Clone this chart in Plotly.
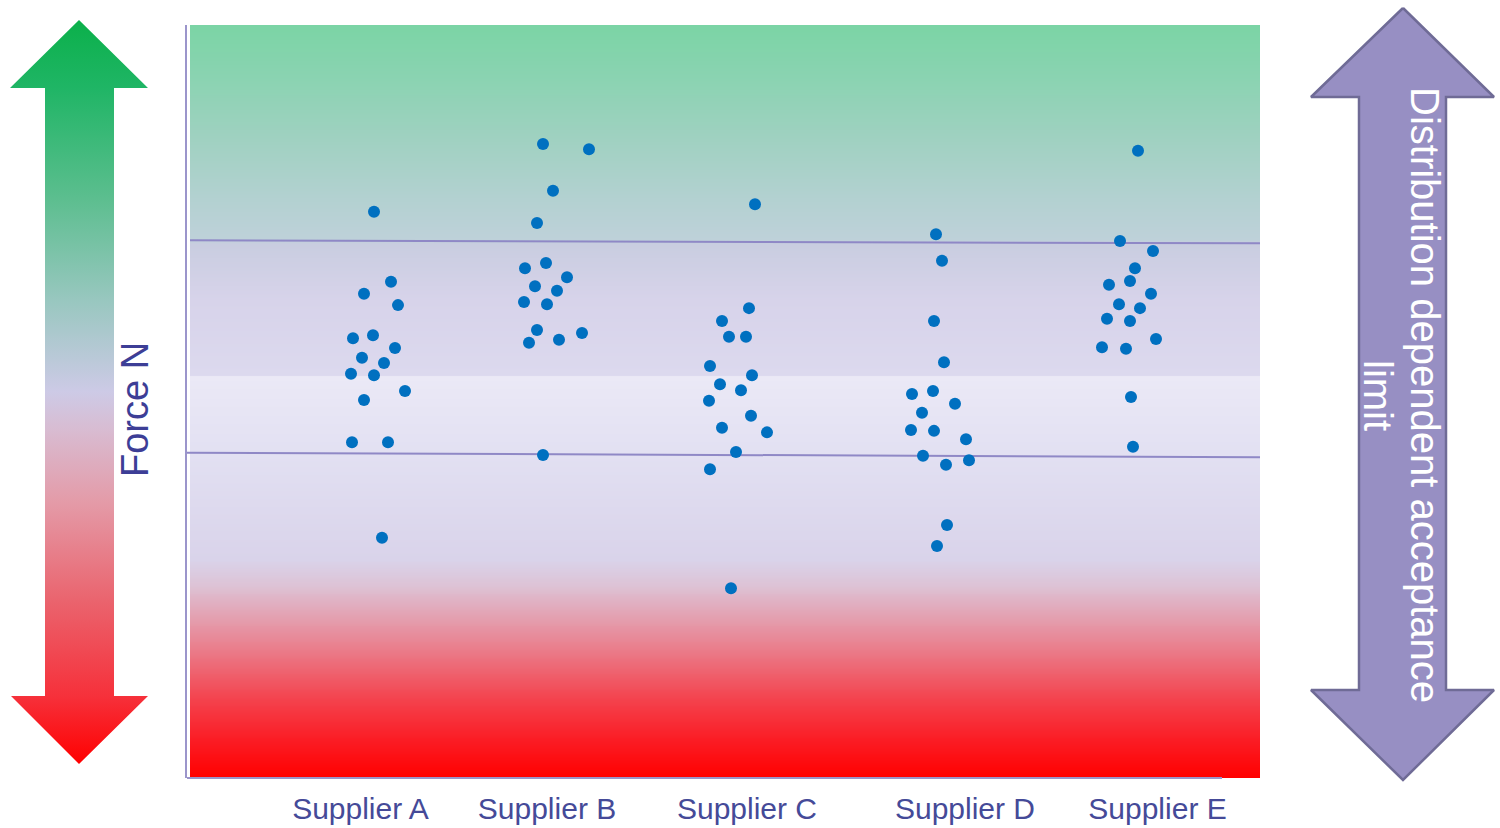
import numpy as np
import plotly.graph_objects as go

# ---------------- data ----------------
suppliers = ["Supplier A", "Supplier B", "Supplier C", "Supplier D", "Supplier E"]
label_pos = [0.8675, 1.80, 2.80, 3.89, 4.8525]

a_x = [0.935, 1.02, 0.885, 1.055, 0.83, 0.93, 1.04, 0.875, 0.985, 0.82, 0.935, 1.09, 0.885, 0.825, 1.005, 0.975]
a_y = [75.2, 65.9, 64.3, 62.8, 58.4, 58.8, 57.1, 55.8, 55.1, 53.7, 53.5, 51.4, 50.2, 44.6, 44.6, 31.9]

b_x = [1.78, 2.01, 1.83, 1.75, 1.69, 1.795, 1.90, 1.74, 1.85, 1.685, 1.80, 1.75, 1.71, 1.86, 1.975, 1.78]
b_y = [84.2, 83.5, 78.0, 73.7, 67.7, 68.4, 66.5, 65.3, 64.7, 63.2, 62.9, 59.5, 57.8, 58.2, 59.1, 42.9]

c_x = [2.84, 2.81, 2.675, 2.71, 2.795, 2.615, 2.825, 2.665, 2.77, 2.61, 2.82, 2.675, 2.90, 2.745, 2.615, 2.72]
c_y = [76.2, 62.4, 60.7, 58.6, 58.6, 54.7, 53.5, 52.3, 51.5, 50.1, 48.1, 46.5, 45.9, 43.3, 41.0, 25.2]

d_x = [3.745, 3.775, 3.735, 3.785, 3.625, 3.73, 3.84, 3.675, 3.62, 3.735, 3.895, 3.68, 3.795, 3.91, 3.80, 3.75]
d_y = [72.2, 68.7, 60.7, 55.2, 51.0, 51.4, 49.7, 48.5, 46.2, 46.1, 45.0, 42.8, 41.6, 42.2, 33.6, 30.8]

e_x = [4.755, 4.665, 4.83, 4.74, 4.61, 4.715, 4.82, 4.66, 4.765, 4.60, 4.715, 4.845, 4.575, 4.695, 4.72, 4.73]
e_y = [83.3, 71.3, 70.0, 67.7, 65.5, 66.0, 64.3, 62.9, 62.4, 61.0, 60.7, 58.3, 57.2, 57.0, 50.6, 44.0]

upper_limit = [71.4, 71.0]
lower_limit = [43.2, 42.6]

# ---------------- styling ----------------
X_MIN, X_MAX = 0.0, 5.365
Y_MIN, Y_MAX = 0.0, 100.0
DOT = "#0070C0"
LINE = "#8F88C6"
AXIS = "#9B95CB"
TEXT = "#454A98"
FONT = "Liberation Sans, Arial, sans-serif"

# background vertical colour profile (y in data units, colour)
bg_stops = [
    (0.0, "#FF0000"), (5.0, "#FB1C24"), (10.4, "#F4424D"), (17.0, "#EA7C8A"),
    (22.3, "#E2A8B9"), (25.6, "#DDC3D6"), (29.0, "#D9D3EA"), (42.9, "#E2E0F2"),
    (53.3, "#EBE9F6"), (53.45, "#DCD9EE"), (63.5, "#D7D3EA"), (70.8, "#C9CDE0"),
    (71.5, "#BED1D9"), (76.8, "#B3D1D1"), (84.7, "#A0D1C1"), (92.7, "#8BD3B2"),
    (100.0, "#7BD4A5"),
]
bg_scale = [[y / 100.0, c] for y, c in bg_stops]

edges = np.linspace(Y_MIN, Y_MAX, 801)
centers = (edges[:-1] + edges[1:]) / 2

fig = go.Figure()

fig.add_trace(go.Heatmap(
    x=[0.015, X_MAX], y=edges, z=centers.reshape(-1, 1),
    colorscale=bg_scale, zmin=Y_MIN, zmax=Y_MAX, showscale=False,
    hoverinfo="skip", xaxis="x", yaxis="y",
))

fig.add_trace(go.Scatter(x=[0.015, X_MAX], y=upper_limit, mode="lines",
                         line=dict(color=LINE, width=2), hoverinfo="skip",
                         showlegend=False))
fig.add_trace(go.Scatter(x=[X_MIN, X_MAX], y=lower_limit, mode="lines",
                         line=dict(color=LINE, width=2), hoverinfo="skip",
                         showlegend=False))

for name, xs, ys in zip(suppliers, [a_x, b_x, c_x, d_x, e_x], [a_y, b_y, c_y, d_y, e_y]):
    fig.add_trace(go.Scatter(x=xs, y=ys, mode="markers", name=name,
                             marker=dict(color=DOT, size=12, line=dict(width=0)),
                             showlegend=False))

# ---------- decorative arrows on a full-figure pixel overlay ----------
left_arrow_x = [79, 148, 114, 114, 148, 79, 11, 45, 45, 10, 79]
left_arrow_y = [20, 88, 88, 696, 696, 764, 696, 696, 88, 88, 20]
left_scale = [
    [0.0, "#0BB04A"], [0.09, "#1FB565"], [0.24, "#5CBE8F"], [0.376, "#98C7BF"],
    [0.50, "#CDCAE6"], [0.55, "#D8BCD2"], [0.65, "#E49AA7"], [0.78, "#EA646E"],
    [0.91, "#F6303A"], [1.0, "#FF0000"],
]
fig.add_trace(go.Scatter(
    x=left_arrow_x, y=left_arrow_y, mode="lines", fill="toself",
    line=dict(width=0, color="rgba(0,0,0,0)"),
    fillgradient=dict(type="vertical", colorscale=left_scale, start=20, stop=764),
    xaxis="x2", yaxis="y2", hoverinfo="skip", showlegend=False,
))

right_arrow_x = [1403, 1494, 1446, 1446, 1494, 1403, 1311, 1359, 1359, 1311, 1403]
right_arrow_y = [8, 97, 97, 690, 690, 780, 690, 690, 97, 97, 8]
fig.add_trace(go.Scatter(
    x=right_arrow_x, y=right_arrow_y, mode="lines", fill="toself",
    fillcolor="#978FC3", line=dict(width=2.5, color="#6F6B96"),
    xaxis="x2", yaxis="y2", hoverinfo="skip", showlegend=False,
))

fig.add_shape(type="line", xref="x2", yref="y2", x0=187, x1=1222, y0=778, y1=778,
              line=dict(color=AXIS, width=2))

fig.add_annotation(xref="x2", yref="y2", x=135, y=410, text="Force N",
                   textangle=-90, showarrow=False,
                   font=dict(family=FONT, size=38, color="#3D3E96"))
fig.add_annotation(xref="x2", yref="y2", x=1425, y=395,
                   text="Distribution dependent acceptance",
                   textangle=90, showarrow=False,
                   font=dict(family=FONT, size=40, color="white"))
fig.add_annotation(xref="x2", yref="y2", x=1378, y=395, text="limit",
                   textangle=90, showarrow=False,
                   font=dict(family=FONT, size=40, color="white"))

W, H = 1500, 828
fig.update_layout(
    width=W, height=H,
    margin=dict(l=0, r=0, t=0, b=0),
    paper_bgcolor="white", plot_bgcolor="rgba(0,0,0,0)",
    showlegend=False,
    font=dict(family=FONT, color=TEXT),
    xaxis=dict(domain=[187 / W, 1260 / W], range=[X_MIN, X_MAX],
               showgrid=False, zeroline=False, showline=False,
               tickmode="array", tickvals=label_pos, ticktext=suppliers,
               ticks="", ticklabelstandoff=10,
               tickfont=dict(family=FONT, size=30, color=TEXT),
               anchor="y", fixedrange=True),
    yaxis=dict(domain=[1 - 778 / H, 1 - 25 / H], range=[Y_MIN, Y_MAX],
               showgrid=False, zeroline=False, showticklabels=False, ticks="",
               showline=True, linecolor=AXIS, linewidth=2,
               anchor="x", fixedrange=True),
    xaxis2=dict(domain=[0, 1], range=[0, W], visible=False, anchor="y2",
                fixedrange=True),
    yaxis2=dict(domain=[0, 1], range=[H, 0], visible=False, anchor="x2",
                fixedrange=True),
)

fig.write_html("out.html", config={"displayModeBar": False},
               post_script="document.body.style.margin='0px';document.body.style.overflow='hidden';")
